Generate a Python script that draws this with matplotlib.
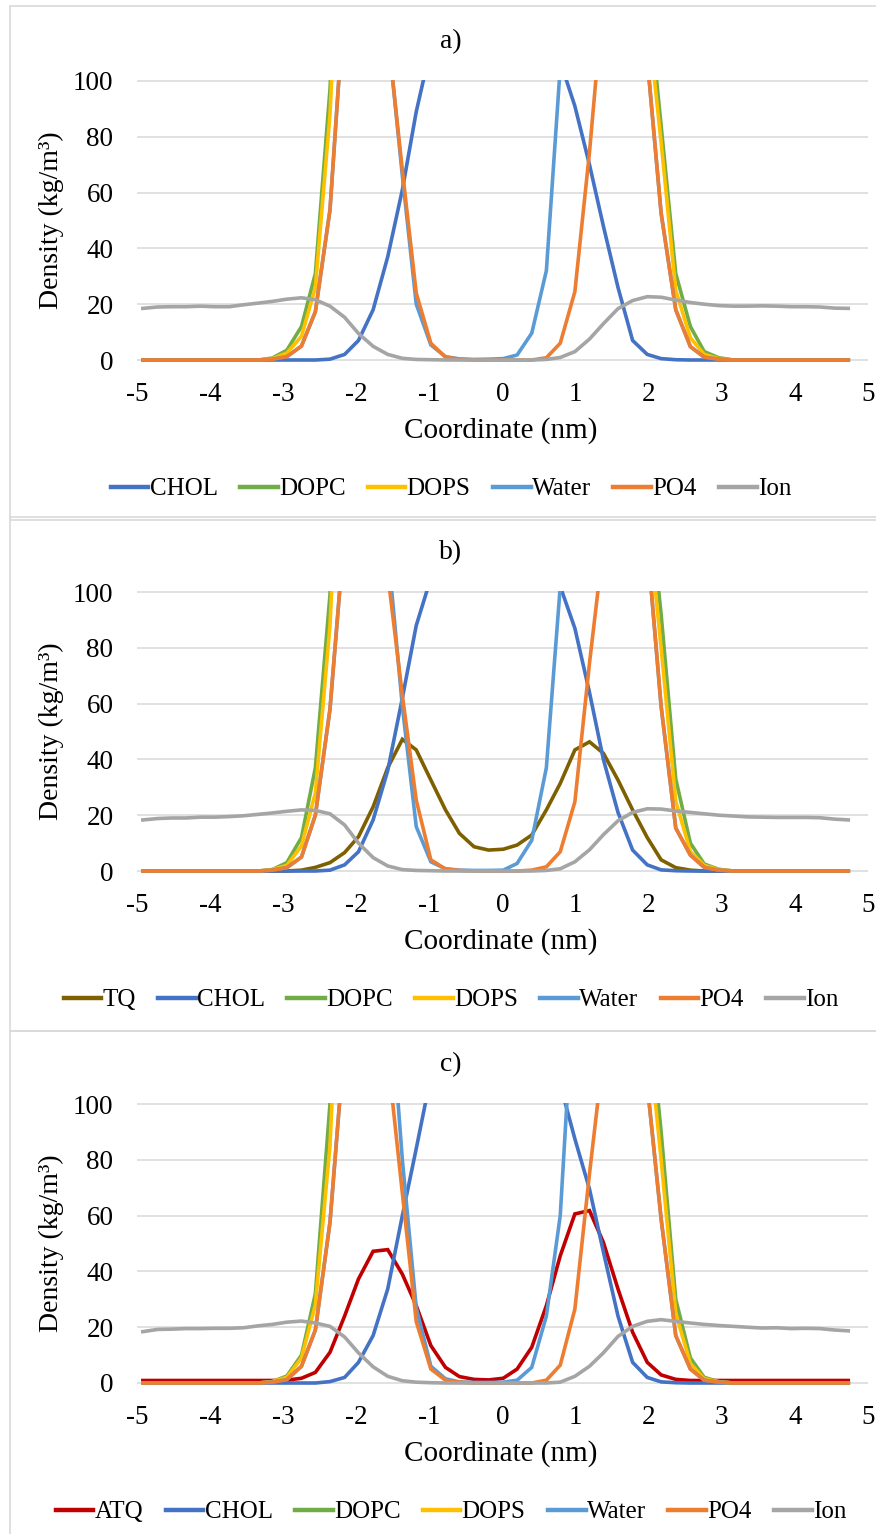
import matplotlib
matplotlib.use('Agg')
import matplotlib.pyplot as plt
from matplotlib.patches import Rectangle

plt.rcParams['font.family'] = ['Liberation Serif', 'DejaVu Serif']
plt.rcParams['axes.unicode_minus'] = False

# coordinate grid (nm), 50 bins
coord = [-4.92, -4.72, -4.53, -4.33, -4.13, -3.94, -3.74, -3.54, -3.34, -3.15,
         -2.95, -2.75, -2.56, -2.36, -2.16, -1.97, -1.77, -1.57, -1.37, -1.18,
         -0.98, -0.78, -0.59, -0.39, -0.19, 0.01, 0.20, 0.40, 0.60, 0.79,
         0.99, 1.19, 1.38, 1.58, 1.78, 1.98, 2.17, 2.37, 2.57, 2.76,
         2.96, 3.16, 3.35, 3.55, 3.75, 3.95, 4.14, 4.34, 4.54, 4.73]

# ---- panel a ----
chol_a = [0, 0, 0, 0, 0, 0, 0, 0, 0, 0,
          0, 0, 0, 0.3, 2, 7, 18, 37, 61, 89,
          112, 140, 165, 185, 195, 195, 185, 165, 135, 107,
          91, 70, 48, 26, 7, 2, 0.5, 0.1, 0, 0,
          0, 0, 0, 0, 0, 0, 0, 0, 0, 0]
dopc_a = [0, 0, 0, 0, 0, 0, 0, 0, 0, 0.7,
          3.5, 12, 31, 97, 200, 280, 300, 300, 300, 300,
          300, 300, 300, 300, 300, 300, 300, 300, 300, 300,
          300, 300, 300, 300, 250, 134, 84, 31, 12, 3,
          0.8, 0, 0, 0, 0, 0, 0, 0, 0, 0]
dops_a = [0, 0, 0, 0, 0, 0, 0, 0, 0, 0.5,
          2.5, 8.5, 26, 88, 200, 250, 250, 250, 250, 250,
          250, 250, 250, 250, 250, 250, 250, 250, 250, 250,
          250, 250, 250, 250, 220, 125, 78, 25, 8, 2,
          0.5, 0, 0, 0, 0, 0, 0, 0, 0, 0]
water_a = [0, 0, 0, 0, 0, 0, 0, 0, 0, 0.3,
           1.2, 5, 17.3, 53.8, 131, 400, 300, 118, 66, 20,
           5.4, 1.2, 0.4, 0.2, 0.3, 0.5, 1.8, 9.6, 32, 105,
           300, 400, 400, 400, 400, 108, 52.6, 18, 4.8, 1,
           0.3, 0, 0, 0, 0, 0, 0, 0, 0, 0]
po4_a = [0, 0, 0, 0, 0, 0, 0, 0, 0, 0.3,
         1.2, 5, 17.3, 53.8, 131, 165, 150, 117, 68, 24,
         6, 1, 0.3, 0, 0, 0, 0, 0, 0.8, 6,
         24.5, 74.5, 131, 160, 140, 108, 52.6, 18, 4.8, 1,
         0.3, 0, 0, 0, 0, 0, 0, 0, 0, 0]
ion_a = [18.5, 19.0, 19.1, 19.1, 19.3, 19.1, 19.1, 19.8, 20.4, 21.0,
         21.8, 22.3, 21.6, 19.3, 15.3, 9.5, 4.9, 2.0, 0.6, 0.2,
         0.1, 0, 0, 0, 0, 0, 0, 0, 0.2, 0.9,
         3.0, 7.5, 13.0, 18.4, 21.3, 22.7, 22.5, 21.5, 20.6, 20.0,
         19.5, 19.3, 19.3, 19.4, 19.3, 19.1, 19.1, 19.0, 18.6, 18.5]

# ---- panel b ----
tq_b = [0, 0, 0, 0, 0, 0, 0, 0, 0, 0,
        0, 0.3, 1.3, 3, 6.6, 12.3, 23, 37, 47.2, 43.4,
        32.6, 21.9, 13.5, 8.7, 7.5, 7.8, 9.3, 12.9, 21.9, 31.4,
        43.4, 46.3, 42.2, 32.6, 21.9, 12, 4, 1.2, 0.3, 0,
        0, 0, 0, 0, 0, 0, 0, 0, 0, 0]
chol_b = [0, 0, 0, 0, 0, 0, 0, 0, 0, 0,
          0, 0, 0, 0.3, 2.2, 6.9, 18.3, 36, 62, 88,
          105, 130, 160, 180, 190, 190, 180, 160, 130, 102,
          87, 64, 40, 21, 7.5, 2.2, 0.4, 0.1, 0, 0,
          0, 0, 0, 0, 0, 0, 0, 0, 0, 0]
dopc_b = [0, 0, 0, 0, 0, 0, 0, 0, 0, 0.5,
          3, 12, 37, 99, 220, 280, 280, 280, 280, 280,
          280, 280, 280, 280, 280, 280, 280, 280, 280, 280,
          280, 280, 280, 280, 240, 140, 92, 33, 10, 2.5,
          0.6, 0, 0, 0, 0, 0, 0, 0, 0, 0]
dops_b = [0, 0, 0, 0, 0, 0, 0, 0, 0, 0.5,
          2, 9, 28, 88, 200, 240, 240, 240, 240, 240,
          240, 240, 240, 240, 240, 240, 240, 240, 240, 240,
          240, 240, 240, 240, 220, 130, 80, 25, 7, 2,
          0.5, 0, 0, 0, 0, 0, 0, 0, 0, 0]
water_b = [0, 0, 0, 0, 0, 0, 0, 0, 0, 0.3,
           1.2, 5, 20, 58, 122, 400, 300, 116, 59, 15.9,
           3.3, 0.8, 0.3, 0.2, 0.2, 0.3, 2.7, 11, 37, 102,
           300, 400, 400, 400, 400, 117.6, 59, 15.4, 5.7, 1.3,
           0.3, 0, 0, 0, 0, 0, 0, 0, 0, 0]
po4_b = [0, 0, 0, 0, 0, 0, 0, 0, 0, 0.3,
         1.2, 5, 20, 58, 122, 160, 150, 106.5, 63, 25.4,
         4, 0.7, 0.2, 0, 0, 0, 0, 0.3, 1.5, 6.9,
         24.8, 74.5, 117, 160, 150, 117.6, 59, 15.4, 5.7, 1.3,
         0.3, 0, 0, 0, 0, 0, 0, 0, 0, 0]
ion_b = [18.3, 18.8, 19.0, 19.0, 19.3, 19.3, 19.5, 19.8, 20.3, 20.8,
         21.4, 21.9, 21.7, 20.5, 16.5, 10.0, 4.8, 1.8, 0.5, 0.2,
         0.1, 0, 0, 0, 0, 0, 0, 0, 0.2, 0.8,
         3.3, 7.6, 13.0, 18.0, 21.0, 22.3, 22.2, 21.5, 21.0, 20.5,
         20.0, 19.7, 19.4, 19.3, 19.2, 19.2, 19.2, 19.1, 18.6, 18.3]

# ---- panel c ----
atq_c = [0.9, 0.9, 0.9, 0.9, 0.9, 0.9, 0.9, 0.9, 0.9, 0.9,
         1.0, 1.7, 3.8, 11, 24, 37.3, 47.2, 47.8, 39, 27.7,
         13.4, 5.6, 2.3, 1.3, 1.1, 1.7, 5, 12.8, 27.7, 45.6,
         60.6, 61.8, 50.4, 33.7, 18.2, 7.4, 2.9, 1.3, 0.9, 0.9,
         0.9, 0.9, 0.9, 0.9, 0.9, 0.9, 0.9, 0.9, 0.9, 0.9]
chol_c = [0, 0, 0, 0, 0, 0, 0, 0, 0, 0,
          0, 0, 0, 0.5, 2, 7.4, 17, 33.7, 60, 84,
          110, 140, 165, 185, 195, 195, 185, 165, 135, 107,
          87.5, 69.5, 47, 24, 7.4, 2, 0.4, 0.1, 0, 0,
          0, 0, 0, 0, 0, 0, 0, 0, 0, 0]
dopc_c = [0, 0, 0, 0, 0, 0, 0, 0, 0, 0.5,
          2.5, 10, 32, 100, 220, 280, 280, 280, 280, 280,
          280, 280, 280, 280, 280, 280, 280, 280, 280, 280,
          280, 280, 280, 280, 240, 140, 90, 30, 9, 2,
          0.5, 0, 0, 0, 0, 0, 0, 0, 0, 0]
dops_c = [0, 0, 0, 0, 0, 0, 0, 0, 0, 0.5,
          2, 9, 28, 85, 200, 240, 240, 240, 240, 240,
          240, 240, 240, 240, 240, 240, 240, 240, 240, 240,
          240, 240, 240, 240, 220, 130, 80, 25, 7, 1.5,
          0.4, 0, 0, 0, 0, 0, 0, 0, 0, 0]
water_c = [0, 0, 0, 0, 0, 0, 0, 0, 0, 0.3,
           1.2, 6, 19, 57.6, 123, 400, 300, 150, 80, 27,
           6, 1.5, 0.4, 0.2, 0.2, 0.3, 1, 5.6, 24, 60,
           149, 400, 400, 400, 400, 107, 58.8, 17, 5, 1,
           0.3, 0, 0, 0, 0, 0, 0, 0, 0, 0]
po4_c = [0, 0, 0, 0, 0, 0, 0, 0, 0, 0.3,
         1.2, 6, 19, 57.6, 123, 160, 150, 117, 68, 22,
         5, 1, 0.3, 0, 0, 0, 0, 0, 1, 6.4,
         26.5, 75, 118, 160, 140, 107, 58.8, 17, 5, 1,
         0.3, 0, 0, 0, 0, 0, 0, 0, 0, 0]
ion_c = [18.4, 19.2, 19.3, 19.5, 19.5, 19.6, 19.6, 19.8, 20.5, 21.0,
         21.8, 22.2, 21.5, 20.3, 16.5, 10.8, 5.8, 2.4, 0.8, 0.3,
         0.1, 0, 0, 0, 0, 0, 0, 0, 0, 0.3,
         2.4, 6.0, 10.8, 16.7, 20.3, 22.1, 22.7, 22.1, 21.5, 21.0,
         20.6, 20.3, 20.0, 19.7, 19.8, 19.5, 19.6, 19.5, 19.0, 18.7]

colors = {'TQ': '#7F6000', 'ATQ': '#C00000', 'CHOL': '#4472C4', 'DOPC': '#70AD47',
          'DOPS': '#FFC000', 'Water': '#5B9BD5', 'PO4': '#ED7D31', 'Ion': '#A5A5A5'}

panels = [
    ('a)', [('CHOL', chol_a), ('DOPC', dopc_a), ('DOPS', dops_a),
            ('Water', water_a), ('PO4', po4_a), ('Ion', ion_a)]),
    ('b)', [('TQ', tq_b), ('CHOL', chol_b), ('DOPC', dopc_b), ('DOPS', dops_b),
            ('Water', water_b), ('PO4', po4_b), ('Ion', ion_b)]),
    ('c)', [('ATQ', atq_c), ('CHOL', chol_c), ('DOPC', dopc_c), ('DOPS', dops_c),
            ('Water', water_c), ('PO4', po4_c), ('Ion', ion_c)]),
]

W, H = 876, 1534
fig = plt.figure(figsize=(W / 100, H / 100), dpi=100)

# pixel layout of each chart: (top of chart box, y-pixel of 100, y-pixel of 0)
layout = [(6, 81, 360), (517, 592, 871), (1031, 1104, 1383)]
x_left, x_right = 137, 868
ylo, yhi = -0.8, 100.4

for (title, series), (box_top, p100, p0) in zip(panels, layout):
    ppu = (p0 - p100) / 100.0
    ax_top = p100 - (yhi - 100) * ppu
    ax_bot = p0 - ylo * ppu
    ax = fig.add_axes([x_left / W, 1 - ax_bot / H, (x_right - x_left) / W, (ax_bot - ax_top) / H])
    for name, vals in series:
        ax.plot(coord, vals, color=colors[name], lw=2.6, label=name, solid_joinstyle='miter')
    ax.set_xlim(-5, 5)
    ax.set_ylim(ylo, yhi)
    ax.set_xticks(range(-5, 6))
    ax.set_yticks(range(0, 101, 20))
    ax.grid(axis='y', color='#D9D9D9', lw=1.1)
    ax.set_axisbelow(True)
    for s in ax.spines.values():
        s.set_visible(False)
    ax.tick_params(length=0, labelsize=19.5, colors='#000000')
    ax.tick_params(axis='x', pad=14)
    ax.tick_params(axis='y', pad=17)

    # chart box (right and bottom edges fall outside the canvas)
    fig.patches.append(Rectangle((9.5 / W, 1 - (box_top + 514) / H), 1.2, 514 / H,
                                 transform=fig.transFigure, fill=False,
                                 edgecolor='#D9D9D9', lw=1.2))
    fig.text(451 / W, 1 - (p100 - 39) / H, title, ha='center', va='center', fontsize=20)
    fig.text(501 / W, 1 - (p0 + 71) / H, 'Coordinate (nm)', ha='center', va='center', fontsize=21)
    fig.text(51 / W, 1 - (p100 + p0) / 2 / H, 'Density (kg/m³)', ha='center', va='center',
             rotation=90, fontsize=20)
    ax.legend(loc='center', bbox_to_anchor=(451 / W, 1 - (p0 + 129) / H),
              bbox_transform=fig.transFigure, ncol=len(series), frameon=False,
              fontsize=18, handlelength=1.5, handletextpad=0.05, columnspacing=0.9,
              borderaxespad=0)
    for ln in ax.get_legend().get_lines():
        ln.set_linewidth(3.2)

fig.savefig('out.png', dpi=100)
